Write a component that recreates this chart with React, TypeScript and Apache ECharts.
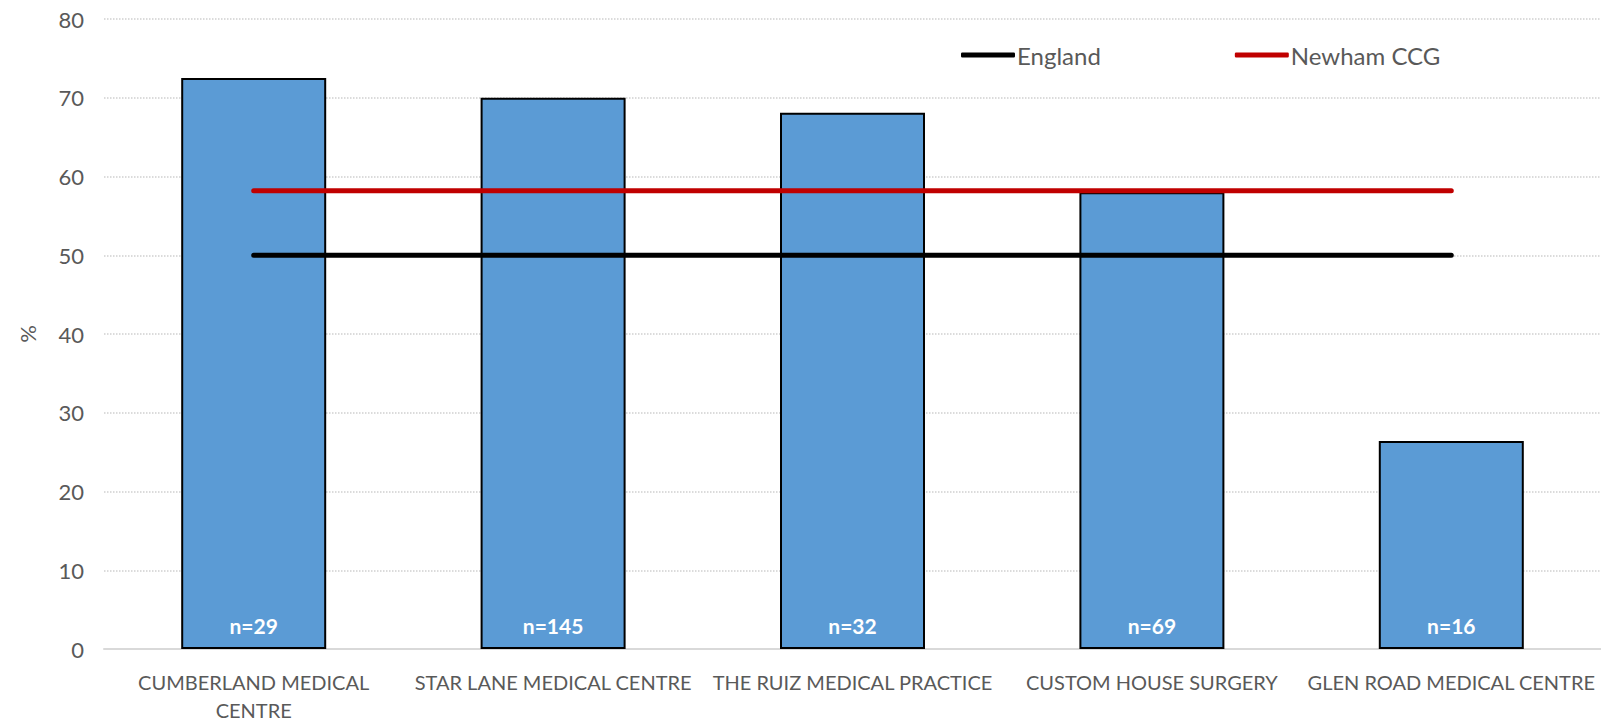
import React, { useEffect, useRef } from "react";
import * as echarts from "echarts";

const categories = [
  "CUMBERLAND MEDICAL CENTRE",
  "STAR LANE MEDICAL CENTRE",
  "THE RUIZ MEDICAL PRACTICE",
  "CUSTOM HOUSE SURGERY",
  "GLEN ROAD MEDICAL CENTRE",
];
const categoryLabels = [
  "CUMBERLAND MEDICAL\nCENTRE",
  "STAR LANE MEDICAL CENTRE",
  "THE RUIZ MEDICAL PRACTICE",
  "CUSTOM HOUSE SURGERY",
  "GLEN ROAD MEDICAL CENTRE",
];
const practiceValues = [72.5, 70.0, 68.1, 58.0, 26.4];
const sampleSizes = ["n=29", "n=145", "n=32", "n=69", "n=16"];
const englandValues = [50, 50, 50, 50, 50];
const newhamValues = [58.2, 58.2, 58.2, 58.2, 58.2];
const yTicks = { min: 0, max: 80, interval: 10 };

const FONT = "Lato";
const GREY = "#595959";

export default function App() {
  const ref = useRef<HTMLDivElement>(null);
  useEffect(() => {
    if (!ref.current) return;
    const chart = echarts.init(ref.current, null, { renderer: "svg" });
    chart.setOption({
      animation: false,
      backgroundColor: "#ffffff",
      textStyle: { fontFamily: FONT },
      grid: { left: 104, top: 19, width: 1500, height: 636, containLabel: false },
      legend: {
        left: 956,
        top: 38,
        itemWidth: 54,
        itemHeight: 5,
        itemGap: 134,
        icon: "roundRect",
        data: ["England", "Newham CCG"],
        textStyle: { fontFamily: FONT, fontSize: 24, color: GREY, padding: [0, 0, 0, -3] },
      },
      xAxis: {
        type: "category",
        data: categories,
        axisTick: { show: false },
        axisLine: { lineStyle: { color: "#d9d9d9", width: 2 } },
        axisLabel: {
          interval: 0,
          margin: 19,
          fontSize: 20,
          lineHeight: 28,
          color: GREY,
          fontFamily: FONT,
          formatter: (_v: string, i: number) => categoryLabels[i],
        },
      },
      yAxis: {
        type: "value",
        min: yTicks.min,
        max: yTicks.max,
        interval: yTicks.interval,
        name: "%",
        nameLocation: "middle",
        nameGap: 66,
        nameRotate: 90,
        nameTextStyle: { fontSize: 22, color: GREY, fontFamily: FONT },
        axisLine: { show: false },
        axisTick: { show: false },
        axisLabel: { fontSize: 22, color: GREY, margin: 20, fontFamily: FONT },
        splitLine: { lineStyle: { type: "dotted", color: "#d0d0d0", width: 1.5 } },
      },
      series: [
        {
          name: "Practice",
          type: "bar",
          data: practiceValues,
          barWidth: 145,
          itemStyle: { color: "#5B9BD5", borderColor: "#000000", borderWidth: 2 },
          label: {
            show: true,
            position: "insideBottom",
            distance: 13,
            color: "#ffffff",
            fontWeight: "bold",
            fontSize: 21,
            fontFamily: FONT,
            formatter: (p: any) => sampleSizes[p.dataIndex],
          },
          z: 2,
        },
        {
          name: "England",
          type: "line",
          data: englandValues,
          symbol: "none",
          color: "#000000",
          lineStyle: { color: "#000000", width: 5, cap: "round" },
          z: 3,
        },
        {
          name: "Newham CCG",
          type: "line",
          data: newhamValues,
          symbol: "none",
          color: "#C00000",
          lineStyle: { color: "#C00000", width: 5, cap: "round" },
          z: 4,
        },
      ],
    });
    return () => chart.dispose();
  }, []);
  return (
    <div
      ref={ref}
      style={{ position: "fixed", left: 0, top: 0, width: 1601, height: 724, background: "#fff" }}
    />
  );
}
